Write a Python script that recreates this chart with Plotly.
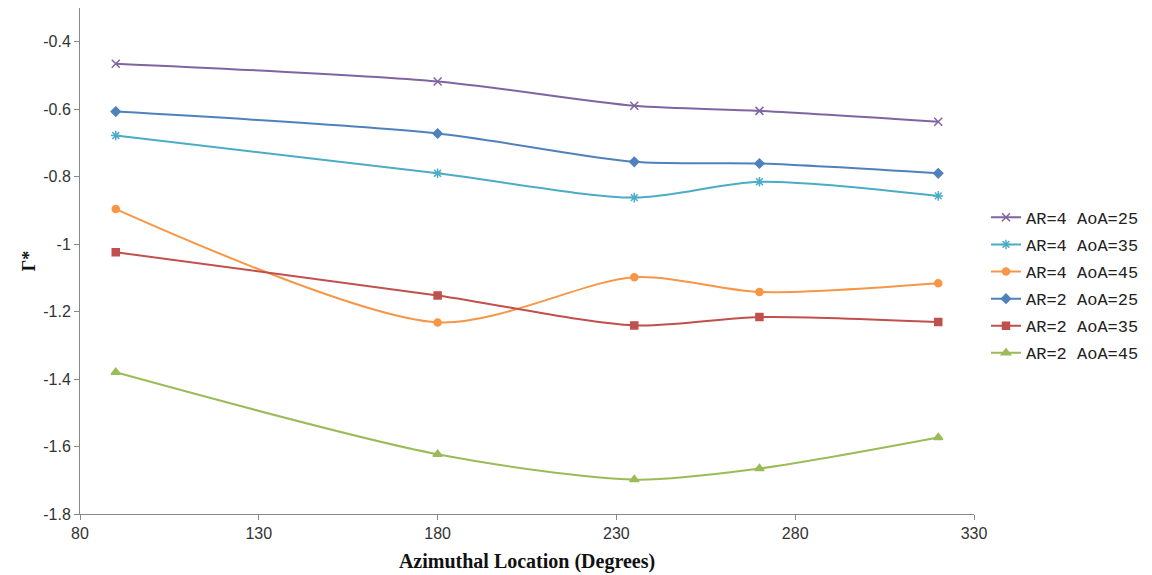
import plotly.graph_objects as go

azimuth = [90, 180, 235, 270, 320]
series_names = ["AR=4 AoA=25", "AR=4 AoA=35", "AR=4 AoA=45",
                "AR=2 AoA=25", "AR=2 AoA=35", "AR=2 AoA=45"]
ar4_aoa25 = [-0.465, -0.518, -0.590, -0.605, -0.637]
ar4_aoa35 = [-0.678, -0.790, -0.862, -0.815, -0.857]
ar4_aoa45 = [-0.896, -1.232, -1.098, -1.142, -1.116]
ar2_aoa25 = [-0.607, -0.672, -0.756, -0.761, -0.790]
ar2_aoa35 = [-1.024, -1.152, -1.241, -1.216, -1.231]
ar2_aoa45 = [-1.380, -1.623, -1.698, -1.665, -1.573]

values = [ar4_aoa25, ar4_aoa35, ar4_aoa45, ar2_aoa25, ar2_aoa35, ar2_aoa45]
colors = ["#8064A2", "#4BACC6", "#F79646", "#4F81BD", "#C0504D", "#9BBB59"]
symbols = ["x-thin", "asterisk", "circle", "diamond", "square", "triangle-up"]
sizes = [8, 8, 7, 7, 7, 8]

fig = go.Figure()
for i, (name, vals, c, s, sz) in enumerate(zip(series_names, values, colors, symbols, sizes)):
    fig.add_trace(go.Scatter(
        x=azimuth, y=vals, name=name, mode="lines+markers", legendgroup=f"g{i}",
        line=dict(color=c, width=2, shape="spline", smoothing=0.8),
        marker=dict(symbol=s, size=sz, color=c, line=dict(color=c, width=1.5)),
    ))

fig.update_layout(
    width=1144, height=567,
    paper_bgcolor="white", plot_bgcolor="white",
    margin=dict(l=72, r=178, t=0, b=61, autoexpand=False),
    font=dict(family="Liberation Sans, Arial", size=16, color="#333"),
    legend=dict(x=1.0134, y=0.452, xanchor="left", yanchor="middle",
                font=dict(family="Liberation Mono", size=17, color="#222"),
                tracegroupgap=2, itemwidth=30, bgcolor="rgba(0,0,0,0)"),
    xaxis=dict(range=[80, 330], tickvals=[80, 130, 180, 230, 280, 330],
               automargin=False,
               showgrid=False, zeroline=False, showline=True, linecolor="#888",
               linewidth=1, ticks="outside", ticklen=5, tickcolor="#888",
               title=dict(text="<b>Azimuthal Location (Degrees)</b>",
                          font=dict(family="Liberation Serif, Times New Roman", size=20, color="#111"),
                          standoff=12)),
    yaxis=dict(range=[-1.8, -0.3], tickvals=[-1.8, -1.6, -1.4, -1.2, -1.0, -0.8, -0.6, -0.4],
               ticktext=["-1.8", "-1.6", "-1.4", "-1.2", "-1", "-0.8", "-0.6", "-0.4"],
               automargin=False,
               showgrid=False, zeroline=False, showline=True, linecolor="#888",
               linewidth=1, ticks="outside", ticklen=5, tickcolor="#888",
               title=dict(text="<b>Γ*</b>",
                          font=dict(family="Liberation Serif, Times New Roman", size=18, color="#111"),
                          standoff=2)),
)

fig.write_html("out.html")
